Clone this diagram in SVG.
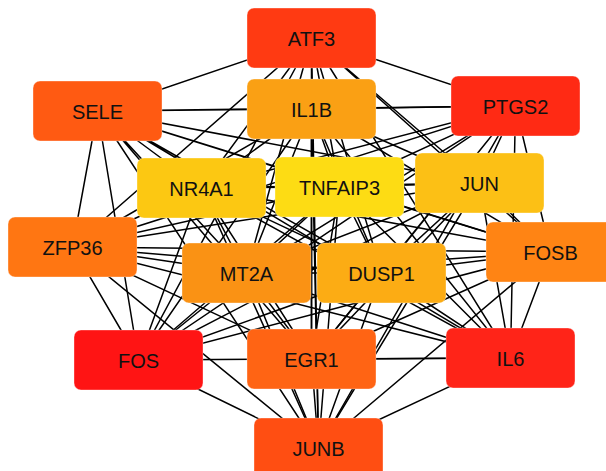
<svg xmlns="http://www.w3.org/2000/svg" width="606" height="471" viewBox="0 0 606 471">
<style>
  .edge { stroke: #000; stroke-width: 1.5; fill: none; }
  .box { stroke: #fff; stroke-opacity: 0.35; stroke-width: 1; }
  .lbl { font-family: "Liberation Sans", Arial, sans-serif; font-size: 20px; fill: #111; text-anchor: middle; }
</style>
<rect width="606" height="471" fill="#fff"/>
<g id="edges">
  <path class="edge" d="M311.5 38L97.5 111M311.5 38L311.5 109M311.5 38L515.5 106M311.5 38L201.5 188M311.5 38L339.5 187M311.5 38L479.5 183M311.5 38L72.5 247M311.5 38L550.5 252M311.5 38L246.5 273M311.5 38L381.5 273M311.5 38L138.5 360M311.5 38L311.5 359M311.5 38L510.5 358M311.5 38L318.5 448"/>
  <path class="edge" d="M97.5 111L311.5 109M97.5 111L515.5 106M97.5 111L201.5 188M97.5 111L339.5 187M97.5 111L479.5 183M97.5 111L72.5 247M97.5 111L550.5 252M97.5 111L246.5 273M97.5 111L381.5 273M97.5 111L138.5 360M97.5 111L311.5 359M97.5 111L510.5 358M97.5 111L318.5 448"/>
  <path class="edge" d="M311.5 109L515.5 106M311.5 109L201.5 188M311.5 109L339.5 187M311.5 109L479.5 183M311.5 109L72.5 247M311.5 109L550.5 252M311.5 109L246.5 273M311.5 109L381.5 273M311.5 109L138.5 360M311.5 109L311.5 359M311.5 109L510.5 358M311.5 109L318.5 448"/>
  <path class="edge" d="M515.5 106L201.5 188M515.5 106L339.5 187M515.5 106L479.5 183M515.5 106L72.5 247M515.5 106L550.5 252M515.5 106L246.5 273M515.5 106L381.5 273M515.5 106L138.5 360M515.5 106L311.5 359M515.5 106L510.5 358M515.5 106L318.5 448"/>
  <path class="edge" d="M201.5 188L339.5 187M201.5 188L479.5 183M201.5 188L72.5 247M201.5 188L550.5 252M201.5 188L246.5 273M201.5 188L381.5 273M201.5 188L138.5 360M201.5 188L311.5 359M201.5 188L510.5 358M201.5 188L318.5 448"/>
  <path class="edge" d="M339.5 187L479.5 183M339.5 187L72.5 247M339.5 187L550.5 252M339.5 187L246.5 273M339.5 187L381.5 273M339.5 187L138.5 360M339.5 187L311.5 359M339.5 187L510.5 358M339.5 187L318.5 448"/>
  <path class="edge" d="M479.5 183L72.5 247M479.5 183L550.5 252M479.5 183L246.5 273M479.5 183L381.5 273M479.5 183L138.5 360M479.5 183L311.5 359M479.5 183L510.5 358M479.5 183L318.5 448"/>
  <path class="edge" d="M72.5 247L550.5 252M72.5 247L246.5 273M72.5 247L381.5 273M72.5 247L138.5 360M72.5 247L311.5 359M72.5 247L510.5 358M72.5 247L318.5 448"/>
  <path class="edge" d="M550.5 252L246.5 273M550.5 252L381.5 273M550.5 252L138.5 360M550.5 252L311.5 359M550.5 252L510.5 358M550.5 252L318.5 448"/>
  <path class="edge" d="M246.5 273L381.5 273M246.5 273L138.5 360M246.5 273L311.5 359M246.5 273L510.5 358M246.5 273L318.5 448"/>
  <path class="edge" d="M381.5 273L138.5 360M381.5 273L311.5 359M381.5 273L510.5 358M381.5 273L318.5 448"/>
  <path class="edge" d="M138.5 360L311.5 359M138.5 360L510.5 358M138.5 360L318.5 448"/>
  <path class="edge" d="M311.5 359L510.5 358M311.5 359L318.5 448"/>
  <path class="edge" d="M510.5 358L318.5 448"/>
</g>
<g id="ATF3"><rect class="box" x="247" y="8" width="129" height="60" rx="7" fill="#FF3A12"/><text class="lbl" x="311.5" y="46">ATF3</text></g>
<g id="SELE"><rect class="box" x="33" y="81" width="129" height="60" rx="7" fill="#FF5A12"/><text class="lbl" x="97.5" y="119">SELE</text></g>
<g id="IL1B"><rect class="box" x="247" y="79" width="129" height="60" rx="7" fill="#FAA014"/><text class="lbl" x="311.5" y="117">IL1B</text></g>
<g id="PTGS2"><rect class="box" x="451" y="76" width="129" height="60" rx="7" fill="#FF2A14"/><text class="lbl" x="515.5" y="114">PTGS2</text></g>
<g id="NR4A1"><rect class="box" x="137" y="158" width="129" height="60" rx="7" fill="#FCC812"/><text class="lbl" x="201.5" y="196">NR4A1</text></g>
<g id="TNFAIP3"><rect class="box" x="275" y="157" width="129" height="60" rx="7" fill="#FDDC14"/><text class="lbl" x="339.5" y="195">TNFAIP3</text></g>
<g id="JUN"><rect class="box" x="415" y="153" width="129" height="60" rx="7" fill="#FCC015"/><text class="lbl" x="479.5" y="191">JUN</text></g>
<g id="ZFP36"><rect class="box" x="8" y="217" width="129" height="60" rx="7" fill="#FF7612"/><text class="lbl" x="72.5" y="255">ZFP36</text></g>
<g id="FOSB"><rect class="box" x="486" y="222" width="129" height="60" rx="7" fill="#FF8414"/><text class="lbl" x="550.5" y="260">FOSB</text></g>
<g id="MT2A"><rect class="box" x="182" y="243" width="129" height="60" rx="7" fill="#FA9214"/><text class="lbl" x="246.5" y="281">MT2A</text></g>
<g id="DUSP1"><rect class="box" x="317" y="243" width="129" height="60" rx="7" fill="#FCAC14"/><text class="lbl" x="381.5" y="281">DUSP1</text></g>
<g id="FOS"><rect class="box" x="74" y="330" width="129" height="60" rx="7" fill="#FF1414"/><text class="lbl" x="138.5" y="368">FOS</text></g>
<g id="EGR1"><rect class="box" x="247" y="329" width="129" height="60" rx="7" fill="#FF6414"/><text class="lbl" x="311.5" y="367">EGR1</text></g>
<g id="IL6"><rect class="box" x="446" y="328" width="129" height="60" rx="7" fill="#FF2418"/><text class="lbl" x="510.5" y="366">IL6</text></g>
<g id="JUNB"><rect class="box" x="254" y="418" width="129" height="60" rx="7" fill="#FF4E12"/><text class="lbl" x="318.5" y="456">JUNB</text></g>
</svg>
